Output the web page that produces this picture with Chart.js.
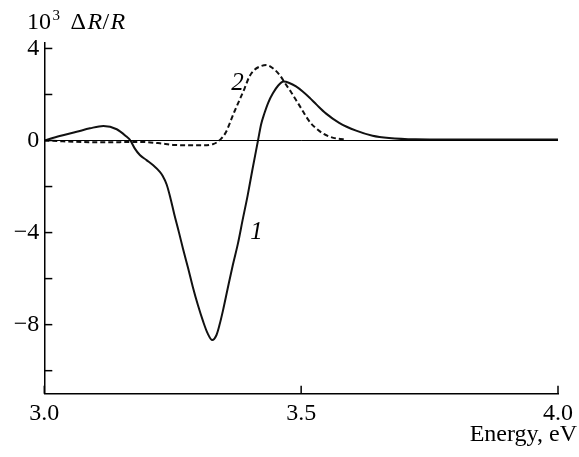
<!DOCTYPE html>
<html>
<head>
<meta charset="utf-8">
<script src="https://cdn.jsdelivr.net/npm/chart.js@4/dist/chart.umd.min.js"></script>
<style>
html,body{margin:0;padding:0;background:#fff;}
#c{display:block;}
</style>
</head>
<body>
<canvas id="c" width="579" height="457"></canvas>
<script>
// Curve 1 (solid)
const energy1 = [3.000, 3.030, 3.063, 3.089, 3.115, 3.141, 3.160, 3.167, 3.176, 3.186, 3.199, 3.212, 3.225, 3.230, 3.238, 3.245, 3.253, 3.262, 3.270, 3.280, 3.289, 3.299, 3.309, 3.318, 3.327, 3.335, 3.341, 3.348, 3.357, 3.367, 3.377, 3.386, 3.396, 3.405, 3.416, 3.422, 3.428, 3.436, 3.445, 3.455, 3.466, 3.477, 3.490, 3.503, 3.516, 3.530, 3.548, 3.574, 3.607, 3.639, 3.671, 3.723, 3.788, 3.885, 4.000];
const dR1 = [0, 0.20, 0.38, 0.53, 0.63, 0.49, 0.17, 0.02, -0.34, -0.63, -0.85, -1.07, -1.36, -1.52, -1.90, -2.45, -3.20, -3.98, -4.70, -5.55, -6.35, -7.15, -7.85, -8.38, -8.67, -8.46, -8.02, -7.37, -6.43, -5.41, -4.47, -3.46, -2.37, -1.28, 0.0, 0.70, 1.15, 1.65, 2.05, 2.38, 2.56, 2.50, 2.35, 2.13, 1.87, 1.56, 1.18, 0.77, 0.43, 0.21, 0.11, 0.05, 0.04, 0.04, 0.04];
// Curve 2 (dashed)
const energy2 = [3.000, 3.108, 3.186, 3.225, 3.250, 3.302, 3.328, 3.344, 3.354, 3.361, 3.370, 3.380, 3.390, 3.399, 3.409, 3.419, 3.432, 3.445, 3.458, 3.471, 3.480, 3.490, 3.500, 3.510, 3.519, 3.529, 3.542, 3.555, 3.571, 3.587];
const dR2 = [0, -0.08, -0.06, -0.12, -0.19, -0.21, -0.16, 0.07, 0.38, 0.75, 1.25, 1.76, 2.27, 2.77, 3.07, 3.21, 3.28, 3.14, 2.85, 2.41, 2.12, 1.76, 1.40, 1.03, 0.75, 0.53, 0.31, 0.17, 0.08, 0.05];

const xTicks = [3.0, 3.5, 4.0];
const xTickLabels = ['3.0', '3.5', '4.0'];
const yTicks = [-10, -8, -6, -4, -2, 0, 2, 4];
const yTickLabels = ['', '\u22128', '', '\u22124', '', '0', '', '4'];
const curveLabels = [{text: '1', x: 3.413, y: -3.98}, {text: '2', x: 3.376, y: 2.5}];

const SERIF = '"Liberation Serif", "Times New Roman", serif';

const toPts = (xs, ys) => xs.map((x, i) => ({x: x, y: ys[i]}));

const decor = {
  id: 'decor',
  afterDraw(chart) {
    const ctx = chart.ctx;
    const xs = chart.scales.x, ys = chart.scales.y;
    const a = chart.chartArea;
    ctx.save();
    // zero line
    ctx.strokeStyle = '#000';
    ctx.lineWidth = 1;
    const y0 = ys.getPixelForValue(0);
    ctx.beginPath(); ctx.moveTo(a.left, y0); ctx.lineTo(a.right, y0); ctx.stroke();
    // inward ticks
    ctx.lineWidth = 1.5;
    ys.ticks.forEach(t => {
      const py = ys.getPixelForValue(t.value);
      ctx.beginPath(); ctx.moveTo(a.left, py); ctx.lineTo(a.left + 8, py); ctx.stroke();
    });
    xs.ticks.forEach(t => {
      const px = xs.getPixelForValue(t.value);
      ctx.beginPath(); ctx.moveTo(px, a.bottom); ctx.lineTo(px, a.bottom - 8); ctx.stroke();
    });
    // curve labels
    ctx.fillStyle = '#000';
    ctx.font = 'italic 25px ' + SERIF;
    ctx.textAlign = 'center';
    ctx.textBaseline = 'middle';
    curveLabels.forEach(l => {
      ctx.fillText(l.text, xs.getPixelForValue(l.x), ys.getPixelForValue(l.y));
    });
    // axis titles
    ctx.textBaseline = 'alphabetic';
    ctx.textAlign = 'left';
    const by = 28.5;
    const parts = [
      {t: '10', f: '24px ' + SERIF, x: 27, dy: 0},
      {t: '3', f: '15px ' + SERIF, x: 52.5, dy: -9},
      {t: '\u0394', f: '24px ' + SERIF, x: 70.5, dy: 0},
      {t: 'R', f: 'italic 24px ' + SERIF, x: 87.5, dy: 0},
      {t: '/', f: '24px ' + SERIF, x: 102.5, dy: 0},
      {t: 'R', f: 'italic 24px ' + SERIF, x: 110.5, dy: 0}
    ];
    parts.forEach(p => {
      ctx.font = p.f;
      ctx.fillText(p.t, p.x, by + p.dy);
    });
    ctx.font = '24px ' + SERIF;
    ctx.textAlign = 'right';
    ctx.fillText('Energy, eV', 577, 441);
    ctx.restore();
  }
};

new Chart(document.getElementById('c'), {
  type: 'scatter',
  data: {
    datasets: [
      {label: '1', data: toPts(energy1, dR1), showLine: true, borderColor: '#111', borderWidth: 2, pointRadius: 0, cubicInterpolationMode: 'monotone', fill: false},
      {label: '2', data: toPts(energy2, dR2), showLine: true, borderColor: '#111', borderWidth: 2, borderDash: [5, 3], pointRadius: 0, cubicInterpolationMode: 'monotone', fill: false}
    ]
  },
  options: {
    responsive: false,
    animation: false,
    devicePixelRatio: 1,
    layout: {padding: {left: 0, right: 19.7, top: 42.7, bottom: 0}},
    plugins: {legend: {display: false}, tooltip: {enabled: false}},
    scales: {
      x: {
        type: 'linear', min: 3.0, max: 4.0,
        afterFit(s) { s.height = 63.3; },
        afterBuildTicks(s) { s.ticks = xTicks.map(v => ({value: v})); },
        grid: {display: false, drawTicks: false},
        border: {display: true, color: '#000', width: 1.5},
        ticks: {
          padding: 6, color: '#000', font: {family: SERIF, size: 24}, maxRotation: 0,
          callback: (v) => { const i = xTicks.findIndex(t => Math.abs(t - v) < 1e-6); return i >= 0 ? xTickLabels[i] : ''; }
        }
      },
      y: {
        type: 'linear', min: -11, max: 4.25,
        afterFit(s) { s.width = 44.3; },
        afterBuildTicks(s) { s.ticks = yTicks.map(v => ({value: v})); },
        grid: {display: false, drawTicks: false},
        border: {display: true, color: '#000', width: 1.5},
        ticks: {
          padding: 5, color: '#000', font: {family: SERIF, size: 24},
          callback: (v) => { const i = yTicks.findIndex(t => Math.abs(t - v) < 1e-6); return i >= 0 ? yTickLabels[i] : ''; }
        }
      }
    }
  },
  plugins: [decor]
});
</script>
</body>
</html>
